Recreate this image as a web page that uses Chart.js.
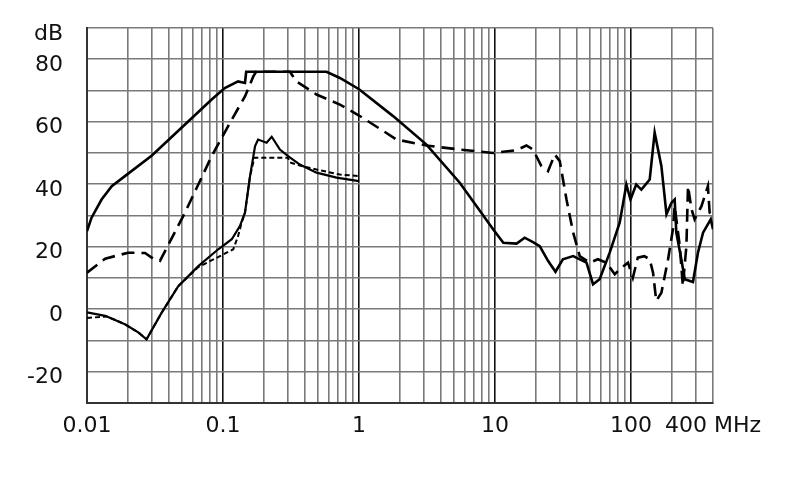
<!DOCTYPE html>
<html>
<head>
<meta charset="utf-8">
<script src="https://cdn.jsdelivr.net/npm/chart.js@4.4.0/dist/chart.umd.min.js"></script>
<style>
  html, body { margin: 0; padding: 0; background: #fff; }
  #wrap { width: 790px; height: 499px; }
</style>
</head>
<body>
<div id="wrap"><canvas id="chart" width="790" height="499"></canvas></div>
<script>
// Upper solid curve
const freqA  = [0.01, 0.0108, 0.0128, 0.0152, 0.019, 0.03, 0.0525, 0.0825, 0.103, 0.129, 0.145, 0.148, 0.577, 0.723, 1.0, 1.78, 3.13, 5.5, 9.67, 11.5, 14.4, 16.5, 19, 21.3, 24.5, 27.8, 31.5, 37.5, 47, 52.5, 58.7, 69.6, 82.4, 92.3, 99, 109, 119, 137, 149, 167, 182, 198, 209, 215, 234, 248, 285, 310, 338, 385, 400];
const levelA = [25, 29.3, 35.1, 39.4, 42.6, 49.2, 59.1, 67.1, 70.8, 72.9, 72.4, 76, 76, 74, 70.4, 61.8, 52.7, 40.5, 25.6, 21.3, 21, 22.9, 21.5, 20.2, 15.5, 12, 16, 17, 14.9, 8, 9.6, 18.1, 27.7, 39.9, 35.1, 39.9, 38.3, 41.5, 56.5, 45.8, 30.4, 34.1, 35.1, 24.5, 16, 9.6, 8.7, 18.1, 24.5, 28.8, 25.6];

// Long-dash curve
const freqB  = [0.01, 0.0136, 0.0201, 0.0267, 0.0307, 0.0344, 0.0525, 0.0825, 0.116, 0.145, 0.167, 0.175, 0.31, 0.347, 0.487, 0.723, 1.0, 1.89, 3.13, 5.5, 9.67, 14.4, 17, 19, 21.9, 24.5, 27.5, 29.9, 33.5, 37.5, 41.9, 49.6, 57, 65.8, 75.8, 85, 94.9, 103, 112, 125, 137, 145, 153, 167, 187, 203, 209, 228, 240, 255, 262, 278, 293, 329, 367, 378, 400];
const levelB = [11.7, 16.2, 18.1, 18, 16.2, 15.5, 30.9, 49, 60.7, 68.1, 74.5, 76, 76, 72.9, 68.7, 65.5, 62, 54.3, 52.4, 51.1, 50, 50.9, 52.4, 51.1, 45.8, 44.2, 49.5, 47.4, 35.1, 24.5, 17, 14.9, 16, 14.9, 11.2, 13.3, 14.9, 10.1, 16.5, 17, 16, 11.7, 2.7, 5.3, 16, 25.6, 33, 20.2, 7.4, 20.2, 39.4, 32, 28.8, 33, 39.4, 30.9, 28.8];

// Lower solid curve
const freqC  = [0.01, 0.0136, 0.019, 0.0238, 0.0274, 0.0354, 0.0469, 0.0658, 0.0922, 0.116, 0.133, 0.145, 0.158, 0.172, 0.181, 0.209, 0.228, 0.262, 0.301, 0.367, 0.487, 0.683, 1.0];
const levelC = [-1, -2.1, -4.8, -7.4, -9.6, -1.1, 7.4, 13.8, 19.2, 22.4, 26.6, 30.9, 42.6, 52.2, 54.3, 53.3, 55.2, 51.1, 49, 46.3, 43.7, 42.1, 41];

// Short-dash curve
const freqD  = [0.01, 0.014, 0.019, 0.0238, 0.0274, 0.0354, 0.0469, 0.0658, 0.095, 0.119, 0.129, 0.137, 0.145, 0.158, 0.17, 0.3, 0.31, 0.367, 0.487, 0.723, 1.0];
const levelD = [-2.8, -2.3, -4.8, -7.4, -9.6, -1.1, 7.4, 13.5, 17, 19.2, 23.4, 27.7, 30.9, 42.6, 48.5, 48.5, 47, 46, 44.7, 43.1, 42.6];

// Axis labels
const xLabelValues = [0.01, 0.1, 1, 10, 100, 400];
const xLabelTexts  = ['0.01', '0.1', '1', '10', '100', '400 MHz'];
const yLabelValues = [-20, 0, 20, 40, 60, 80, 90];
const yLabelTexts  = ['-20', '0', '20', '40', '60', '80', 'dB'];

// Grid positions (log decades 1..9, then up to 400)
const xGridValues = [];
[0.01, 0.1, 1, 10].forEach(d => {
    for (let m = 1; m <= 9; m++) xGridValues.push(+(d * m).toPrecision(3));
});
xGridValues.push(100, 200, 300, 400);
const yGridValues = [];
for (let v = -30; v <= 90; v += 10) yGridValues.push(v);

const same = (a, b) => Math.abs(a - b) / Math.max(Math.abs(b), 1e-9) < 1e-6;
const isDecade = v => [0.01, 0.1, 1, 10, 100].some(d => same(v, d));

function pts(xs, ys) {
    return xs.map((x, i) => ({ x: x, y: ys[i] }));
}

const tickFont = { family: 'DejaVu Sans, Arial, sans-serif', size: 22 };

new Chart(document.getElementById('chart'), {
    type: 'line',
    data: {
        datasets: [
            { data: pts(freqA, levelA), borderColor: '#000', borderWidth: 2.6 },
            { data: pts(freqB, levelB), borderColor: '#000', borderWidth: 2.6, borderDash: [13, 7] },
            { data: pts(freqC, levelC), borderColor: '#000', borderWidth: 2.2 },
            { data: pts(freqD, levelD), borderColor: '#000', borderWidth: 2, borderDash: [5, 3] }
        ]
    },
    options: {
        responsive: false,
        animation: false,
        layout: { padding: { left: 0, right: 77, top: 28, bottom: 0 } },
        plugins: { legend: { display: false }, tooltip: { enabled: false } },
        elements: { point: { radius: 0 }, line: { tension: 0 } },
        scales: {
            x: {
                type: 'logarithmic',
                min: 0.01, max: 400,
                afterBuildTicks: s => { s.ticks = xGridValues.map(v => ({ value: v })); },
                afterFit: s => { s.height = 96; },
                ticks: {
                    autoSkip: false, maxRotation: 0, padding: 10, color: '#111', font: tickFont,
                    callback: v => {
                        const i = xLabelValues.findIndex(l => same(v, l));
                        return i >= 0 ? xLabelTexts[i] : '';
                    }
                },
                grid: {
                    drawTicks: false,
                    color: ctx => (ctx.tick && isDecade(ctx.tick.value)) ? '#111' : '#7a7a7a',
                    lineWidth: 1.6
                },
                border: { color: '#333', width: 2 }
            },
            y: {
                min: -30, max: 90,
                afterBuildTicks: s => { s.ticks = yGridValues.map(v => ({ value: v })); },
                afterFit: s => { s.width = 87; },
                ticks: {
                    autoSkip: false, padding: 3, labelOffset: 6, color: '#111', font: tickFont,
                    callback: v => {
                        const i = yLabelValues.indexOf(v);
                        return i >= 0 ? yLabelTexts[i] : '';
                    }
                },
                grid: { drawTicks: true, tickLength: 21, tickColor: 'rgba(0,0,0,0)', color: '#7a7a7a', lineWidth: 1.6 },
                border: { color: '#333', width: 2 }
            }
        }
    }
});
</script>
</body>
</html>
